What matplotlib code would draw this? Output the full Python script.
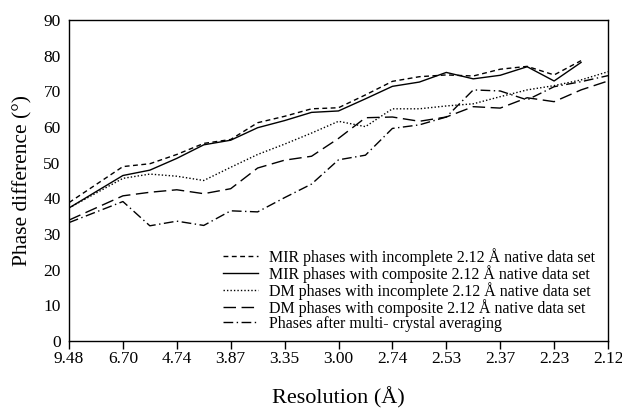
import matplotlib
matplotlib.use("Agg")
import matplotlib.pyplot as plt

# x positions in units of tick spacing (first segment spans 9.48 -> 6.70)
x_full = [0, 1, 1.5, 2, 2.5, 3, 3.5, 4, 4.5, 5, 5.5, 6, 6.5, 7, 7.5, 8, 8.5, 9, 9.5, 10]
x_mir = x_full[:-1]

tick_labels = ["9.48", "6.70", "4.74", "3.87", "3.35", "3.00", "2.74", "2.53", "2.37", "2.23", "2.12"]

mir_incomplete = [38.8, 48.9, 49.7, 52.3, 55.4, 56.5, 61.2, 63.0, 65.1, 65.4, 69.0, 72.8, 74.1,
                  74.6, 74.3, 76.2, 77.0, 74.6, 78.6]
mir_composite = [37.3, 46.4, 47.9, 51.2, 55.0, 56.3, 59.8, 61.8, 64.1, 64.5, 67.9, 71.4, 72.6,
                 75.3, 73.5, 74.5, 76.9, 72.9, 78.1]
dm_incomplete = [37.3, 45.6, 46.8, 46.2, 45.0, 48.7, 52.3, 55.2, 58.3, 61.6, 60.1, 65.1, 65.1,
                 65.9, 66.5, 68.5, 70.4, 71.6, 73.2, 75.5]
dm_composite = [33.9, 40.7, 41.7, 42.4, 41.3, 42.7, 48.5, 50.7, 51.8, 56.8, 62.6, 62.8, 61.6,
                62.8, 65.7, 65.3, 68.2, 67.1, 70.4, 72.9]
multi_crystal = [33.2, 39.1, 32.3, 33.6, 32.4, 36.5, 36.2, 40.2, 44.0, 50.8, 52.1, 59.6, 60.6,
                 62.8, 70.4, 70.1, 67.6, 71.3, 72.7, 74.4]

labels = ["MIR phases with incomplete 2.12 Å native data set",
          "MIR phases with composite 2.12 Å native data set",
          "DM phases with incomplete 2.12 Å native data set",
          "DM phases with composite 2.12 Å native data set",
          "Phases after multi- crystal averaging"]

plt.rcParams['font.family'] = ['Liberation Serif', 'DejaVu Serif']

fig = plt.figure(figsize=(6.22, 4.12), dpi=100)
ax = fig.add_axes([69/622, 1-341/412, (608-69)/622, (341-20)/412])

lw = 1.0
ax.plot(x_mir, mir_incomplete, color='black', lw=lw, linestyle=(0, (3.5, 2.5)), label=labels[0])
ax.plot(x_mir, mir_composite, color='black', lw=lw, linestyle='-', label=labels[1])
ax.plot(x_full, dm_incomplete, color='black', lw=lw, linestyle=(0, (1, 1.5)), label=labels[2])
ax.plot(x_full, dm_composite, color='black', lw=lw, linestyle=(0, (9, 4)), label=labels[3])
ax.plot(x_full, multi_crystal, color='black', lw=lw, linestyle=(0, (7, 2.5, 1, 2.5)), label=labels[4])

ax.set_xlim(0, 10)
ax.set_ylim(0, 90)
ax.set_xticks(range(len(tick_labels)))
ax.set_xticklabels(tick_labels)
ax.set_yticks(range(0, 91, 10))
ax.tick_params(axis='x', direction='out', length=6, width=1, labelsize=12.5, pad=1)
ax.tick_params(axis='y', length=0, labelsize=12.5, pad=6)
for s in ax.spines.values():
    s.set_linewidth(1.0)

ax.set_xlabel("Resolution (Å)", fontsize=16, labelpad=15)
ax.set_ylabel("Phase difference (°)", fontsize=15.5, labelpad=8)

ax.legend(frameon=False, loc='lower left', bbox_to_anchor=(0.28, 0.018),
          fontsize=11.5, handlelength=2.2, handletextpad=0.7, labelspacing=-0.05,
          borderpad=0.2, borderaxespad=0)

fig.savefig("out.png", dpi=100)
